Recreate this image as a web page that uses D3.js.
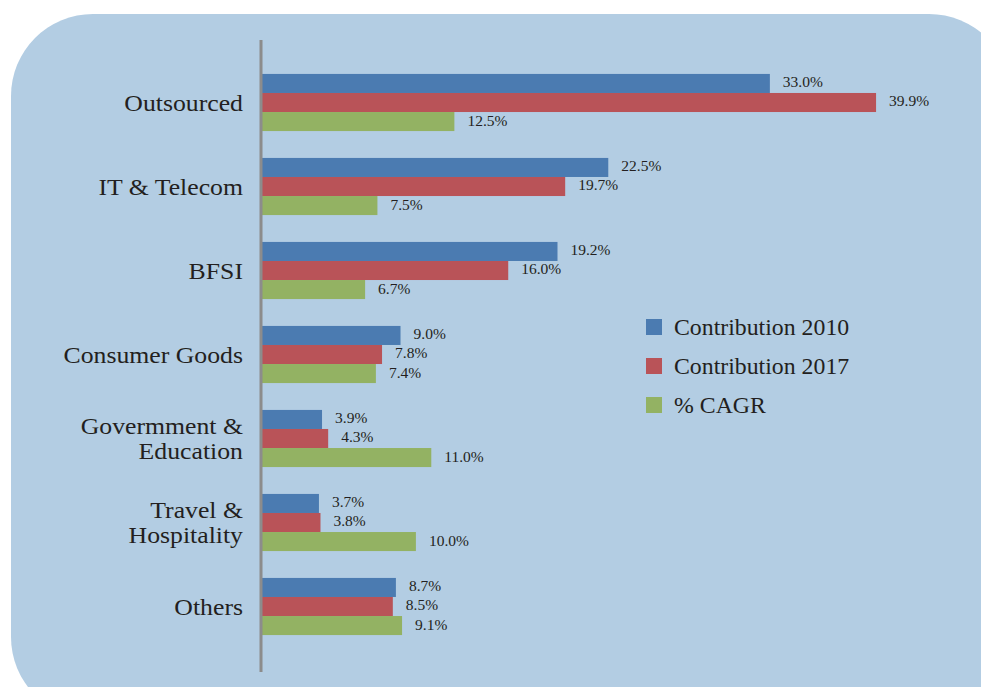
<!DOCTYPE html>
<html>
<head>
<meta charset="utf-8">
<script src="https://cdn.jsdelivr.net/npm/d3@7"></script>
<style>
  body { margin: 0; background: #fff; }
  svg { display: block; }
  text { font-family: "Liberation Serif", "Times New Roman", serif; fill: #231f20; }
</style>
</head>
<body>
<div id="chart"></div>
<script>
//------------------------1. DATA------------------------//
const categories = [
  ["Outsourced"],
  ["IT & Telecom"],
  ["BFSI"],
  ["Consumer Goods"],
  ["Govermment &", "Education"],
  ["Travel &", "Hospitality"],
  ["Others"]
];
const seriesNames = ["Contribution 2010", "Contribution 2017", "% CAGR"];
const contribution2010 = [33.0, 22.5, 19.2, 9.0, 3.9, 3.7, 8.7];
const contribution2017 = [39.9, 19.7, 16.0, 7.8, 4.3, 3.8, 8.5];
const cagr = [12.5, 7.5, 6.7, 7.4, 11.0, 10.0, 9.1];
const colors = ["#4b7bb1", "#b95358", "#93b263"];

//------------------------2. SVG-------------------------//
const width = 981;
const height = 687;

const svg = d3.select("#chart").append("svg")
    .attr("width", width)
    .attr("height", height);

// rounded light blue panel
svg.append("rect")
    .attr("x", 11)
    .attr("y", 14)
    .attr("width", 1000)
    .attr("height", 705)
    .attr("rx", 82)
    .attr("ry", 82)
    .attr("fill", "#b3cde3");

//-----------------------SCALES--------------------------//
const keys = categories.map(function(c) { return c.join(" "); });
const series = [contribution2010, contribution2017, cagr];

const y0 = d3.scaleBand()
    .domain(keys)
    .range([60.5, 648.5])
    .paddingInner(0.32)
    .paddingOuter(0.16);

const y1 = d3.scaleBand()
    .domain(d3.range(series.length))
    .range([0, y0.bandwidth()]);

const x = d3.scaleLinear()
    .domain([0, 40])
    .range([262, 262 + 40 * 15.39]);

//-----------------------BARS----------------------------//
const groups = svg.selectAll("g.cat")
    .data(keys)
    .enter()
    .append("g")
    .attr("class", "cat")
    .attr("transform", function(d) { return "translate(0," + y0(d) + ")"; });

groups.selectAll("rect")
    .data(function(d, i) {
        return series.map(function(s, j) { return { s: j, v: s[i] }; });
    })
    .enter()
    .append("rect")
    .attr("x", x(0))
    .attr("y", function(d) { return y1(d.s); })
    .attr("width", function(d) { return x(d.v) - x(0); })
    .attr("height", y1.bandwidth())
    .attr("fill", function(d) { return colors[d.s]; });

groups.selectAll("text.val")
    .data(function(d, i) {
        return series.map(function(s, j) { return { s: j, v: s[i] }; });
    })
    .enter()
    .append("text")
    .attr("class", "val")
    .attr("x", function(d) { return x(d.v) + 13; })
    .attr("y", function(d) { return y1(d.s) + y1.bandwidth() / 2 + 4; })
    .style("font-size", "15.5px")
    .text(function(d) { return d.v.toFixed(1) + "%"; });

//-----------------------AXIS----------------------------//
svg.append("line")
    .attr("x1", 261).attr("x2", 261)
    .attr("y1", 40).attr("y2", 672)
    .attr("stroke", "#8c8c8c")
    .attr("stroke-width", 3);

// category labels (slightly wide face, so stretch horizontally)
categories.forEach(function(lines, i) {
    const cy = y0(keys[i]) + y0.bandwidth() / 2;
    lines.forEach(function(l, k) {
        const ty = cy + 8 + (k - (lines.length - 1) / 2) * 25.6;
        svg.append("text")
            .attr("transform", "translate(243," + ty + ") scale(1.12,1)")
            .attr("text-anchor", "end")
            .style("font-size", "23px")
            .text(l);
    });
});

//-----------------------LEGEND--------------------------//
const legend = svg.selectAll("g.legend")
    .data(seriesNames)
    .enter()
    .append("g")
    .attr("class", "legend")
    .attr("transform", function(d, i) { return "translate(646," + (319 + i * 39) + ")"; });

legend.append("rect")
    .attr("width", 16)
    .attr("height", 16)
    .attr("fill", function(d, i) { return colors[i]; });

legend.append("text")
    .attr("x", 28)
    .attr("y", 15.5)
    .style("font-size", "23.8px")
    .text(function(d) { return d; });
</script>
</body>
</html>
